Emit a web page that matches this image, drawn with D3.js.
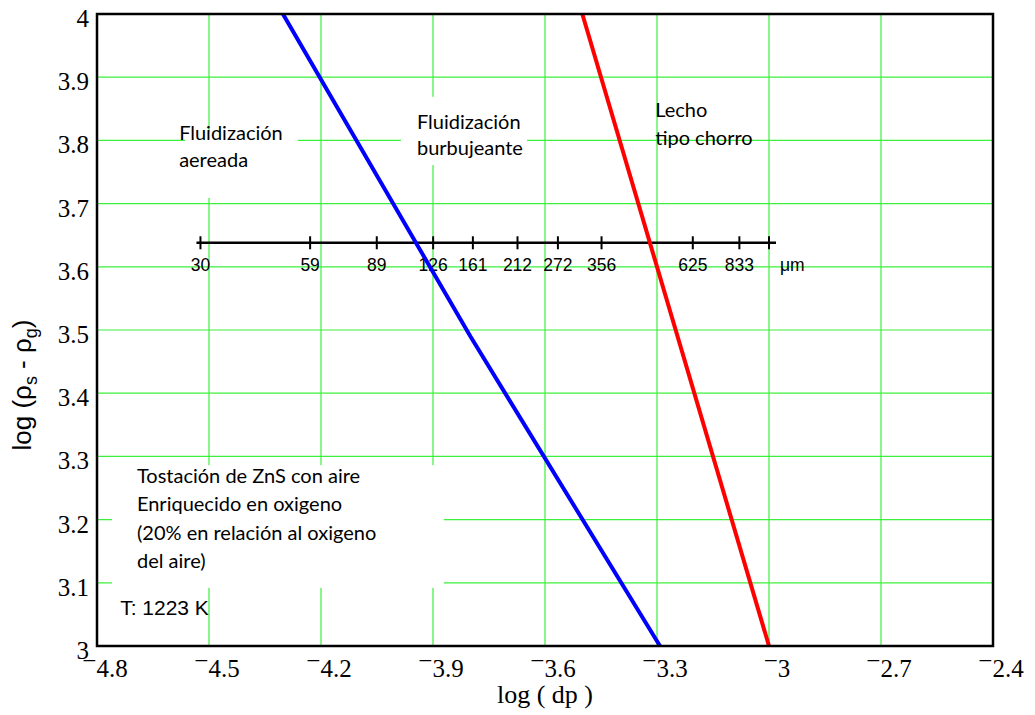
<!DOCTYPE html>
<html>
<head>
<meta charset="utf-8">
<script src="https://cdn.jsdelivr.net/npm/d3@7"></script>
<style>
  body { margin: 0; background: #fff; }
  svg { display: block; }
</style>
</head>
<body>
<div id="chart"></div>
<script>
// data
var xTicks = [-4.8, -4.5, -4.2, -3.9, -3.6, -3.3, -3.0, -2.7, -2.4];
var yTicks = [3, 3.1, 3.2, 3.3, 3.4, 3.5, 3.6, 3.7, 3.8, 3.9, 4];

// blue: aereada / burbujeante limit, red: burbujeante / chorro limit
var blueX = [-4.302, -3.80, -3.292];
var blueY = [4, 3.49, 3];
var redX = [-3.5, -3.0];
var redY = [4, 3];

// particle size scale (micrometres) drawn inside the plot
var sizeTicks = [30, 59, 89, 126, 161, 212, 272, 356, 625, 833, 1000];
var sizeLabels = ["30", "59", "89", "126", "161", "212", "272", "356", "625", "833", ""];
var sizeAxisLevel = 3.638;

var margin = {top: 14, right: 42, bottom: 69, left: 97};
var width = 1035 - margin.left - margin.right;
var height = 715 - margin.top - margin.bottom;

var svg = d3.select("#chart").append("svg")
    .attr("width", 1035).attr("height", 715)
  .append("g")
    .attr("transform", "translate(" + margin.left + "," + margin.top + ")");

var x = d3.scaleLinear().domain([-4.8, -2.4]).range([0, width]);
var y = d3.scaleLinear().domain([3, 4]).range([height, 0]);

var serif = "'Liberation Serif', 'Times New Roman', serif";
var sans = "'Liberation Sans', Arial, sans-serif";
var calib = "Lato, 'Open Sans', sans-serif";

// grid
svg.append("g").selectAll("line").data(xTicks.slice(1, -1)).enter().append("line")
    .attr("x1", d => x(d)).attr("x2", d => x(d))
    .attr("y1", 0).attr("y2", height)
    .attr("stroke", "#3cf03c").attr("stroke-width", 1.2);
svg.append("g").selectAll("line").data(yTicks.slice(1, -1)).enter().append("line")
    .attr("x1", 0).attr("x2", width)
    .attr("y1", d => y(d)).attr("y2", d => y(d))
    .attr("stroke", "#3cf03c").attr("stroke-width", 1.2);

// white boxes behind the notes (data units)
var boxes = [
    {x0: -4.564, x1: -4.262, y0: 3.709, y1: 3.813},
    {x0: -3.986, x1: -3.648, y0: 3.761, y1: 3.869},
    {x0: -4.760, x1: -3.871, y0: 3.092, y1: 3.286}
];
svg.append("g").selectAll("rect").data(boxes).enter().append("rect")
    .attr("x", d => x(d.x0)).attr("y", d => y(d.y1))
    .attr("width", d => x(d.x1) - x(d.x0)).attr("height", d => y(d.y0) - y(d.y1))
    .attr("fill", "#fff");

// particle size axis
var sizePos = d => x(Math.log10(d * 1e-6));
var sa = svg.append("g").attr("transform", "translate(0," + y(sizeAxisLevel) + ")");
sa.append("line")
    .attr("x1", sizePos(sizeTicks[0]) - 4).attr("x2", sizePos(sizeTicks[sizeTicks.length - 1]) + 7)
    .attr("stroke", "#000").attr("stroke-width", 2.5);
sa.selectAll(".tk").data(sizeTicks).enter().append("line")
    .attr("x1", d => sizePos(d)).attr("x2", d => sizePos(d))
    .attr("y1", -6.5).attr("y2", 6.5)
    .attr("stroke", "#000").attr("stroke-width", 2);
sa.selectAll(".lb").data(sizeTicks).enter().append("text")
    .attr("x", d => sizePos(d)).attr("y", 28)
    .attr("text-anchor", "middle")
    .style("font-family", sans).style("font-size", "17.5px")
    .text((d, i) => sizeLabels[i]);
sa.append("text")
    .attr("x", sizePos(1000) + 11).attr("y", 28)
    .style("font-family", sans).style("font-size", "17.5px")
    .text("μm");

// curves
var line = d3.line().x(d => x(d[0])).y(d => y(d[1]));
svg.append("path").datum(d3.zip(blueX, blueY))
    .attr("d", line).attr("fill", "none")
    .attr("stroke", "#0000ff").attr("stroke-width", 4);
svg.append("path").datum(d3.zip(redX, redY))
    .attr("d", line).attr("fill", "none")
    .attr("stroke", "#ff0000").attr("stroke-width", 4);

// frame
svg.append("rect").attr("width", width).attr("height", height)
    .attr("fill", "none").attr("stroke", "#000").attr("stroke-width", 2.5);

// tick labels
var fmt = d3.format("~g");
var xl = svg.append("g").selectAll("text").data(xTicks).enter().append("text")
    .attr("x", d => x(d) + 8).attr("y", height + 31)
    .attr("text-anchor", "middle")
    .style("font-family", serif).style("font-size", "25px");
xl.append("tspan").attr("dy", -8).text("\u2212");
xl.append("tspan").attr("dy", 8).text(d => fmt(Math.abs(d)));

svg.append("g").selectAll("text").data(yTicks).enter().append("text")
    .attr("x", -8).attr("y", d => y(d) + 13)
    .attr("text-anchor", "end")
    .style("font-family", serif).style("font-size", "25px")
    .text(d => fmt(d));

// axis titles
svg.append("text")
    .attr("x", width / 2).attr("y", height + 57)
    .attr("text-anchor", "middle")
    .style("font-family", serif).style("font-size", "26px")
    .text("log ( dp )");

var yt = svg.append("text")
    .attr("transform", "translate(" + (31 - margin.left) + "," + (385 - margin.top) + ") rotate(-90)")
    .attr("text-anchor", "middle")
    .style("font-family", sans).style("font-size", "26px");
yt.append("tspan").text("log (\u03c1");
yt.append("tspan").attr("dy", 6).style("font-size", "18px").text("s");
yt.append("tspan").attr("dy", -6).text(" - \u03c1");
yt.append("tspan").attr("dy", 6).style("font-size", "18px").text("g");
yt.append("tspan").attr("dy", -6).text(")");

// notes (data units)
var notes = [
    {x: -4.580, y: 3.801, lines: ["Fluidización", "aereada"], gap: 27, font: calib, size: 20},
    {x: -3.943, y: 3.818, lines: ["Fluidización", "burbujeante"], gap: 26, font: calib, size: 20},
    {x: -3.305, y: 3.837, lines: ["Lecho", "tipo chorro"], gap: 28, font: calib, size: 20},
    {x: -4.693, y: 3.258, lines: ["Tostación de ZnS con aire", "Enriquecido en oxigeno",
        "(20% en relación al oxigeno", "del aire)"], gap: 28.3, font: calib, size: 20},
    {x: -4.738, y: 3.049, lines: ["T: 1223 K"], gap: 0, font: sans, size: 21}
];
notes.forEach(function(n) {
    var t = svg.append("text")
        .style("font-family", n.font).style("font-size", n.size + "px")
        .attr("fill", "#000");
    n.lines.forEach(function(s, i) {
        t.append("tspan").attr("x", x(n.x)).attr("y", y(n.y) + i * n.gap).text(s);
    });
});
</script>
</body>
</html>
